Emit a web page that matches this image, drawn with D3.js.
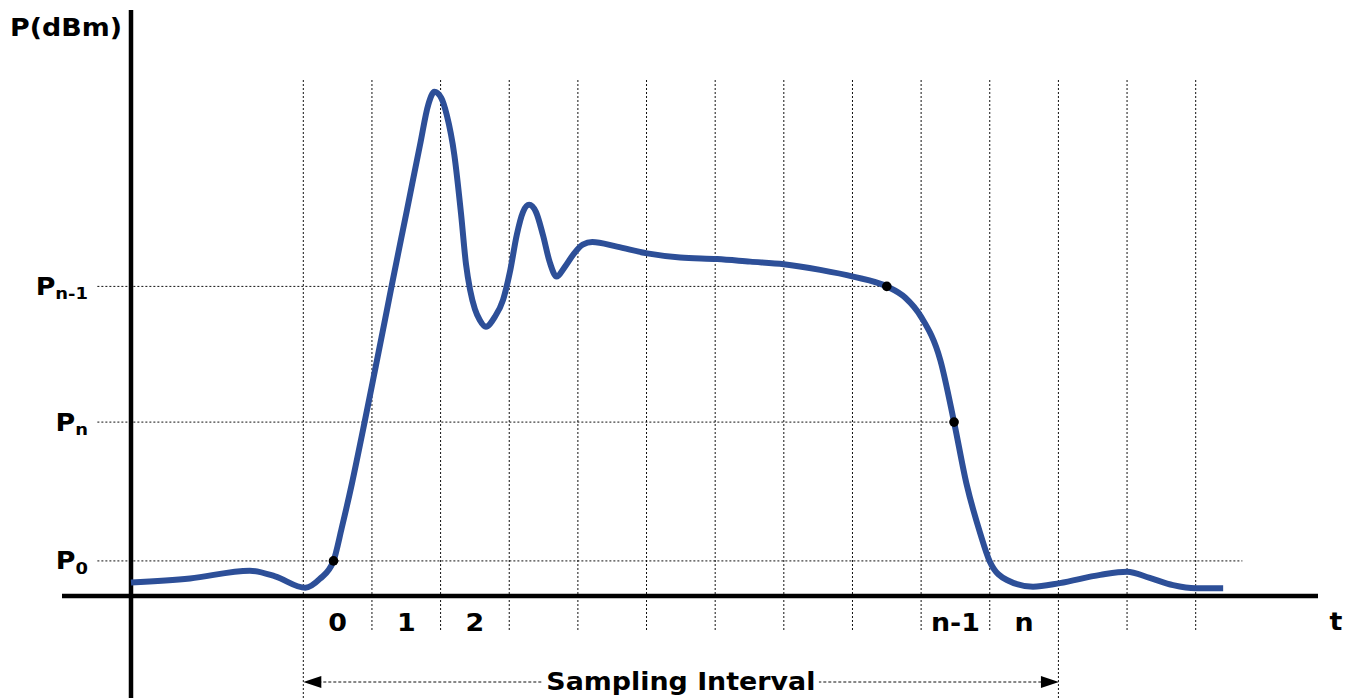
<!DOCTYPE html>
<html lang="en">
<head>
    <meta charset="UTF-8">
    <title>Sampling Interval</title>
    <script src="https://d3js.org/d3.v7.min.js"></script>
    <style>
        body { margin: 0; background: #fff; }
        text { font-family: "DejaVu Sans", Verdana, sans-serif; font-weight: bold; fill: #000; }
    </style>
</head>
<body>
    <script>
        const width = 1353;
        const height = 698;

        // time, in sample periods (grid lines sit on whole numbers)
        const curveT = [-2.51, -1.65, -0.78, -0.41, 0.03, 0.24, 0.44, 0.56, 0.71, 0.87, 1.03, 1.19, 1.29,
            1.51, 1.70, 1.82, 1.91, 2.01, 2.09, 2.20, 2.30, 2.37, 2.43, 2.50, 2.57, 2.66, 2.79, 2.91, 3.01,
            3.11, 3.20, 3.29, 3.39, 3.49, 3.59, 3.69, 3.80, 3.94, 4.07, 4.21, 4.57, 5.01, 5.49, 6.03, 6.51,
            7.00, 7.53, 8.01, 8.50, 8.77, 9.00, 9.28, 9.48, 9.66, 9.86, 10.00, 10.25, 10.63, 11.02, 11.61,
            12.00, 12.33, 12.67, 13.00, 13.40];
        // power, arbitrary dBm units
        const curveP = [2.6, 3.4, 4.9, 3.8, 1.6, 3.3, 6.8, 13.2, 21.9, 32.2, 42.8, 53.5, 60.3,
            74.8, 87.4, 95.2, 97.7, 96.5, 93.2, 85.5, 73.8, 64.3, 59.3, 55.6, 53.5, 52.2, 54.1, 57.4, 62.8,
            70.0, 74.4, 75.8, 74.4, 70.0, 64.7, 61.9, 63.6, 66.3, 68.1, 68.6, 67.7, 66.4, 65.6, 65.3, 64.8,
            64.3, 63.2, 61.9, 60.0, 57.8, 54.1, 45.7, 33.7, 21.8, 12.2, 6.7, 3.1, 1.8, 2.5, 4.1,
            4.7, 3.5, 2.1, 1.5, 1.5];

        const gridT = d3.range(0, 14);
        const intervalStart = 0;
        const intervalEnd = 11;

        const sampleLabels = ["0", "1", "2", "n-1", "n"];
        const sampleLabelT = [0.5, 1.5, 2.5, 9.5, 10.5];

        const levelNames = ["0", "n", "n-1"];
        const levelP = [6.8, 33.7, 60.0];
        const levelT = [0.44, 9.48, 8.50];
        const levelEndT = [13.68, 9.48, 8.50];

        const x = d3.scaleLinear().domain([0, 13]).range([303.3, 1195.7]);
        const y = d3.scaleLinear().domain([0, 100]).range([596, 80]);

        const axisX = x(-2.51);
        const textScale = 1.12;

        const svg = d3.select("body").append("svg")
            .attr("width", width)
            .attr("height", height);

        // vertical grid
        svg.append("g").selectAll("line")
            .data(gridT)
            .enter().append("line")
            .attr("x1", d => x(d)).attr("x2", d => x(d))
            .attr("y1", y(100))
            .attr("y2", d => (d === intervalStart || d === intervalEnd) ? height : 630)
            .attr("stroke", "#111")
            .attr("stroke-width", 1)
            .attr("stroke-dasharray", "2,2");

        // horizontal level lines
        svg.append("g").selectAll("line")
            .data(levelP)
            .enter().append("line")
            .attr("x1", x(-3))
            .attr("x2", (d, i) => x(levelEndT[i]))
            .attr("y1", d => y(d)).attr("y2", d => y(d))
            .attr("stroke", "#111")
            .attr("stroke-width", 1)
            .attr("stroke-dasharray", "2,2");

        // axes
        svg.append("line")
            .attr("x1", axisX).attr("x2", axisX)
            .attr("y1", 10).attr("y2", height)
            .attr("stroke", "#000").attr("stroke-width", 4.5);
        svg.append("line")
            .attr("x1", 62).attr("x2", 1318)
            .attr("y1", y(0)).attr("y2", y(0))
            .attr("stroke", "#000").attr("stroke-width", 4.5);

        // power curve
        const points = curveT.map((t, i) => [t, curveP[i]]);
        const line = d3.line()
            .x(d => x(d[0]))
            .y(d => y(d[1]))
            .curve(d3.curveMonotoneX);

        svg.append("path")
            .datum(points)
            .attr("fill", "none")
            .attr("stroke", "#2d4f98")
            .attr("stroke-width", 6)
            .attr("stroke-linejoin", "round")
            .attr("d", line);

        // sample dots
        svg.append("g").selectAll("circle")
            .data(levelP)
            .enter().append("circle")
            .attr("cx", (d, i) => x(levelT[i]))
            .attr("cy", d => y(d))
            .attr("r", 4.8)
            .attr("fill", "#000");

        function label(tx, ty, anchor, size) {
            return svg.append("text")
                .attr("transform", `translate(${tx},${ty}) scale(${textScale},1)`)
                .attr("text-anchor", anchor)
                .attr("font-size", size);
        }

        label(122, 36, "end", 24).text("P(dBm)");
        label(1336, 630, "middle", 24).text("t");

        sampleLabels.forEach((s, i) => {
            label(x(sampleLabelT[i]), 631, "middle", 24).text(s);
        });

        levelNames.forEach((s, i) => {
            const t = label(88, y(levelP[i]) + 8.5, "end", 24);
            t.append("tspan").text("P");
            t.append("tspan").attr("font-size", 16).attr("dy", 4.5).text(s);
        });

        // sampling interval arrow
        const arrowY = 682;
        svg.append("line")
            .attr("x1", x(intervalStart) + 10).attr("x2", x(intervalEnd) - 10)
            .attr("y1", arrowY).attr("y2", arrowY)
            .attr("stroke", "#111")
            .attr("stroke-width", 1)
            .attr("stroke-dasharray", "3,2");

        const xa = x(intervalStart), xb = x(intervalEnd) + 0.5;
        svg.append("path")
            .attr("d", `M${xa},${arrowY} L${xa + 18},${arrowY - 6} L${xa + 18},${arrowY + 6} Z`)
            .attr("fill", "#000");
        svg.append("path")
            .attr("d", `M${xb},${arrowY} L${xb - 18},${arrowY - 6} L${xb - 18},${arrowY + 6} Z`)
            .attr("fill", "#000");

        const midX = (x(intervalStart) + x(intervalEnd)) / 2;
        svg.append("rect")
            .attr("x", midX - 138).attr("y", arrowY - 12)
            .attr("width", 276).attr("height", 24)
            .attr("fill", "#fff");
        label(midX, 689.5, "middle", 24).text("Sampling Interval");
    </script>
</body>
</html>
